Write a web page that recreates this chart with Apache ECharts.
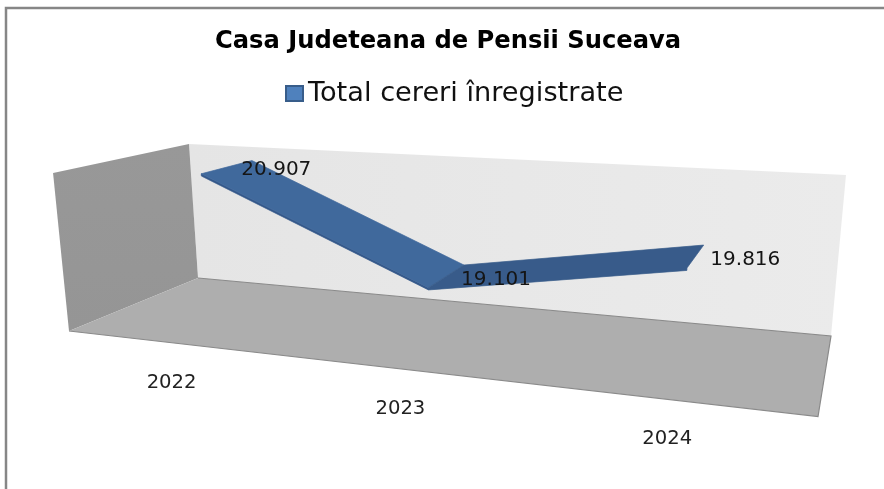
<!DOCTYPE html>
<html><head><meta charset="utf-8">
<style>html,body{margin:0;padding:0;background:#fff}#c{width:884px;height:489px}</style>
<script src="https://cdn.jsdelivr.net/npm/echarts@6/dist/echarts.min.js"></script>
</head><body><div id="c"></div>
<script>
const years = ['2022', '2023', '2024'];
const cereri = [20907, 19101, 19816];
const axisMin = 18000, axisMax = 21000;
const seriesName = 'Total cereri înregistrate';
const chartTitle = 'Casa Judeteana de Pensii Suceava';

// Projection of the unit box on the page (layout of the 3D frame)
const box = {
  backBL: [198, 278], backBR: [831, 336], backTL: [189, 144], backTR: [846, 175],
  frontBL: [69, 331], frontBR: [818, 416.5]
};
function squareHomography(p0, p1, p2, p3) {
  const det = (a, b) => a[0] * b[1] - a[1] * b[0];
  const d1 = [p1[0] - p2[0], p1[1] - p2[1]], d2 = [p3[0] - p2[0], p3[1] - p2[1]];
  const s = [p0[0] - p1[0] + p2[0] - p3[0], p0[1] - p1[1] + p2[1] - p3[1]];
  const D = det(d1, d2), g = det(s, d2) / D, h = det(d1, s) / D;
  return {
    a: [p1[0] - p0[0] + g * p1[0], p1[1] - p0[1] + g * p1[1], g],
    b: [p3[0] - p0[0] + h * p3[0], p3[1] - p0[1] + h * p3[1], h],
    o: [p0[0], p0[1], 1]
  };
}
const floor = squareHomography(box.backBL, box.backBR, box.frontBR, box.frontBL);
const back = squareHomography(box.backBL, box.backBR, box.backTR, box.backTL);
function project(x, y, z) {
  const h = [0, 1, 2].map(i => floor.o[i] + x * floor.a[i] + z * floor.b[i] + y * back.b[i]);
  return [h[0] / h[2], h[1] / h[2]];
}

const ribbonFront = 0.7, ribbonBack = 0.28, ribbonThick = 0.014;
const labelDx = 50, labelDy = 3, catDy = 40;
const font = '"DejaVu Sans", sans-serif';

const chart = echarts.init(document.getElementById('c'), null, { renderer: 'canvas' });
const GRID = { left: 100, top: 100, width: 600, height: 300 };

function toUnit(pt) {
  return [(pt[0] - GRID.left) / GRID.width, (GRID.top + GRID.height - pt[1]) / GRID.height];
}

function poly(points, fill, seam) {
  return {
    type: 'polygon', shape: { points: points }, silent: true,
    style: { fill: fill, stroke: seam ? fill : null, lineWidth: seam ? 0.7 : 0 }
  };
}
function edge(points) {
  return {
    type: 'polyline', shape: { points: points }, silent: true,
    style: { fill: null, stroke: '#8a8a8a', lineWidth: 1.2 }
  };
}

function renderFrame(params, api) {
  if (params.dataIndex !== 0) return null;
  const P = project;
  return {
    type: 'group',
    children: [
      poly([P(0, 0, 0), P(1, 0, 0), P(1, 1, 0), P(0, 1, 0)], {
        type: 'linear', x: 0, y: 0, x2: 1, y2: 0,
        colorStops: [{ offset: 0, color: '#e5e5e5' }, { offset: 1, color: '#ebebeb' }]
      }),
      poly([P(0, 0, 0), P(0, 0, 1), P(0, 1, 1), P(0, 1, 0)], {
        type: 'linear', x: 0, y: 0, x2: 0, y2: 1,
        colorStops: [{ offset: 0, color: '#989898' }, { offset: 1, color: '#959595' }]
      }),
      poly([P(0, 0, 0), P(1, 0, 0), P(1, 0, 1), P(0, 0, 1)], '#aeaeae'),
      edge([P(0, 0, 0), P(1, 0, 0), P(1, 0, 1), P(0, 0, 1)])
    ]
  };
}

function renderRibbon(params, api) {
  const i = params.dataIndex;
  const n = years.length;
  const cat = api.value(0), val = api.value(1);
  const u = toUnit(api.coord([cat, val]));
  const mid = project(u[0], u[1], 0.5);
  const floorFront = project(u[0], 0, 1);
  const children = [];
  if (i < n - 1) {
    const u2 = toUnit(api.coord([cat + 1, cereri[i + 1]]));
    const f1 = project(u[0], u[1], ribbonFront), b1 = project(u[0], u[1], ribbonBack);
    const f2 = project(u2[0], u2[1], ribbonFront), b2 = project(u2[0], u2[1], ribbonBack);
    const f1d = project(u[0], u[1] - ribbonThick, ribbonFront);
    const f2d = project(u2[0], u2[1] - ribbonThick, ribbonFront);
    const rising = u2[1] > u[1];
    if (rising) {
      children.push(poly([f1d, f2d, f2, b2, b1, f1], '#385b8a', true));
    } else {
      children.push(poly([f1d, f2d, f2, f1], '#34588a', true));
      children.push(poly([f1, f2, b2, b1], '#40699c', true));
    }
  }
  return {
    type: 'group',
    children: children.concat([
      {
        type: 'text', z2: 50, silent: true,
        style: {
          text: String(val).replace(/(\d+)(\d{3})$/, '$1.$2'),
          x: mid[0] + labelDx, y: mid[1] + labelDy,
          align: 'center', verticalAlign: 'middle',
          font: '20px ' + font, fill: '#151515'
        }
      },
      {
        type: 'text', silent: true,
        style: {
          text: years[cat],
          x: floorFront[0], y: floorFront[1] + catDy,
          align: 'center', verticalAlign: 'middle',
          font: '19.6px ' + font, fill: '#222'
        }
      }
    ])
  };
}

const table = years.map((y, i) => [i, cereri[i]]);

chart.setOption({
  animation: false,
  backgroundColor: '#fff',
  title: {
    text: chartTitle, left: 210, top: 25,
    textStyle: { fontFamily: font, fontSize: 24.2, fontWeight: 'bold', color: '#000' }
  },
  legend: {
    data: [{ name: seriesName, icon: 'rect' }], left: 280, top: 75,
    itemWidth: 17, itemHeight: 15, itemGap: 5, selectedMode: false,
    textStyle: { fontFamily: font, fontSize: 27.2, color: '#111' }
  },
  grid: GRID,
  xAxis: { type: 'category', data: years, show: false, boundaryGap: true },
  yAxis: { type: 'value', min: axisMin, max: axisMax, show: false },
  graphic: [
    { type: 'rect', silent: true, shape: { x: 6, y: 8, width: 900, height: 500 },
      style: { fill: null, stroke: '#868686', lineWidth: 2.5 } }
  ],
  series: [
    { type: 'custom', name: 'frame', coordinateSystem: 'cartesian2d', renderItem: renderFrame,
      data: [[0, axisMin]], z: 1, silent: true, clip: false, tooltip: { show: false } },
    { type: 'custom', name: seriesName, coordinateSystem: 'cartesian2d', renderItem: renderRibbon,
      data: table, encode: { x: 0, y: 1 }, z: 2, clip: false,
      itemStyle: { color: '#4f81bd', borderColor: '#385d8a', borderWidth: 1 } }
  ]
});
</script></body></html>
